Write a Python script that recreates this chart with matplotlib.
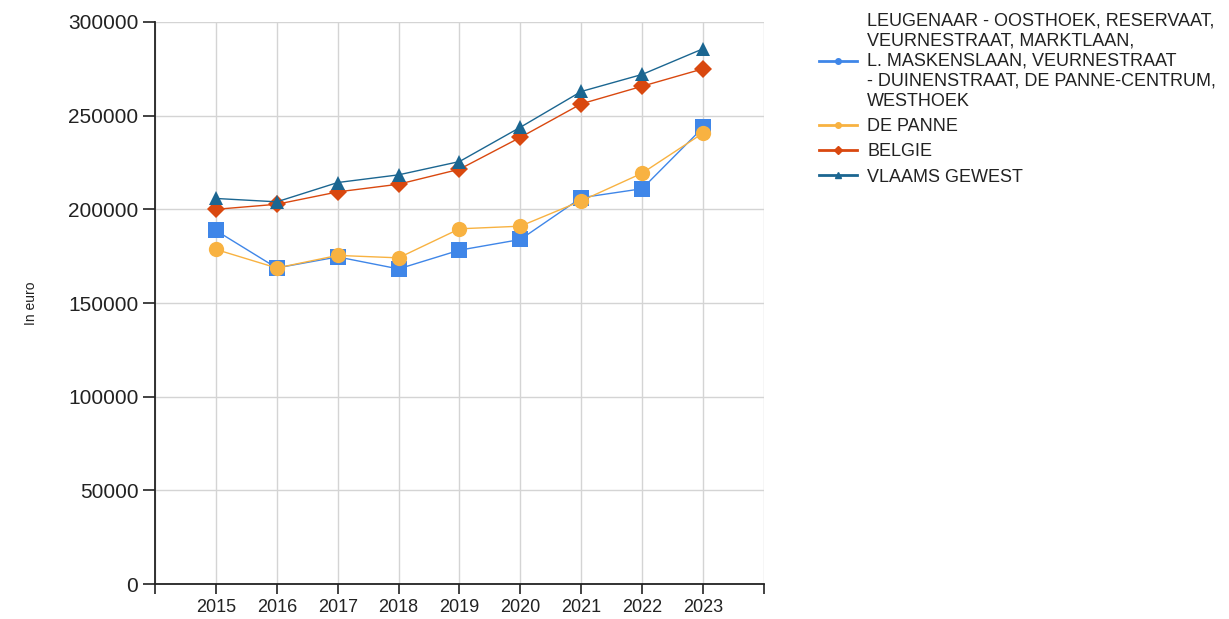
import matplotlib
matplotlib.use("Agg")
import matplotlib.pyplot as plt
from matplotlib.lines import Line2D

plt.rcParams['font.family'] = ['Liberation Sans', 'DejaVu Sans']

jaren = [2015, 2016, 2017, 2018, 2019, 2020, 2021, 2022, 2023]

wijk = [188700, 168700, 174600, 168200, 178200, 183900, 206200, 211000, 243700]
de_panne = [178600, 168700, 175400, 174100, 189600, 191000, 204500, 219300, 240700]
belgie = [200000, 202700, 209300, 213400, 221400, 238400, 256300, 265700, 275000]
vlaams_gewest = [205800, 204000, 214300, 218400, 225500, 243800, 262900, 272000, 285700]

namen = [
    "LEUGENAAR - OOSTHOEK, RESERVAAT,\nVEURNESTRAAT, MARKTLAAN,\nL. MASKENSLAAN, VEURNESTRAAT\n- DUINENSTRAAT, DE PANNE-CENTRUM,\nWESTHOEK",
    "DE PANNE",
    "BELGIE",
    "VLAAMS GEWEST",
]

kleuren = ["#3f86e8", "#f8b241", "#d9480f", "#1b6691"]
markers = ["s", "o", "D", "^"]
maten = [12, 11, 9, 10]

fig = plt.figure(figsize=(12.29, 6.19), dpi=100)
ax = fig.add_axes([0.1261, 0.0565, 0.4955, 0.908])

reeksen = [wijk, de_panne, belgie, vlaams_gewest]
for waarden, kleur, m, ms in zip(reeksen, kleuren, markers, maten):
    ax.plot(jaren, waarden, color=kleur, marker=m, markersize=ms,
            linewidth=1.0, markeredgewidth=0, zorder=3)

ax.set_xlim(2014, 2024)
ax.set_ylim(0, 300000)
ax.set_xticks(range(2014, 2025))
ax.set_xticklabels([""] + [str(j) for j in jaren] + [""], fontsize=13)
ax.set_yticks(range(0, 300001, 50000))
ax.set_yticklabels([str(v) for v in range(0, 300001, 50000)], fontsize=15)
ax.tick_params(axis="x", length=7, width=1.2, pad=4, colors="#222222")
ax.tick_params(axis="y", length=9, width=1.2, pad=3, colors="#222222")

ax.grid(True, color="#d4d4d4", linewidth=1)
ax.set_axisbelow(True)
for s in ["top", "right"]:
    ax.spines[s].set_visible(False)
for s in ["left", "bottom"]:
    ax.spines[s].set_linewidth(1.3)
    ax.spines[s].set_color("#222222")

fig.text(0.025, 0.51, "In euro", rotation=90, fontsize=10,
         va="center", ha="center", color="#222222")

handles = [Line2D([], [], color=k, marker=m, markersize=4, linewidth=2)
           for k, m in zip(kleuren, ["o", "o", "D", "^"])]
leg = fig.legend(handles, namen, loc="upper left",
                 bbox_to_anchor=(812 / 1229, 1 - 5 / 619),
                 frameon=False, fontsize=13, handlelength=2.1,
                 handletextpad=0.55, labelspacing=0.45, borderaxespad=0)
for t in leg.get_texts():
    t.set_linespacing(1.25)
    t.set_color("#222222")

fig.savefig("out.png", dpi=100)
